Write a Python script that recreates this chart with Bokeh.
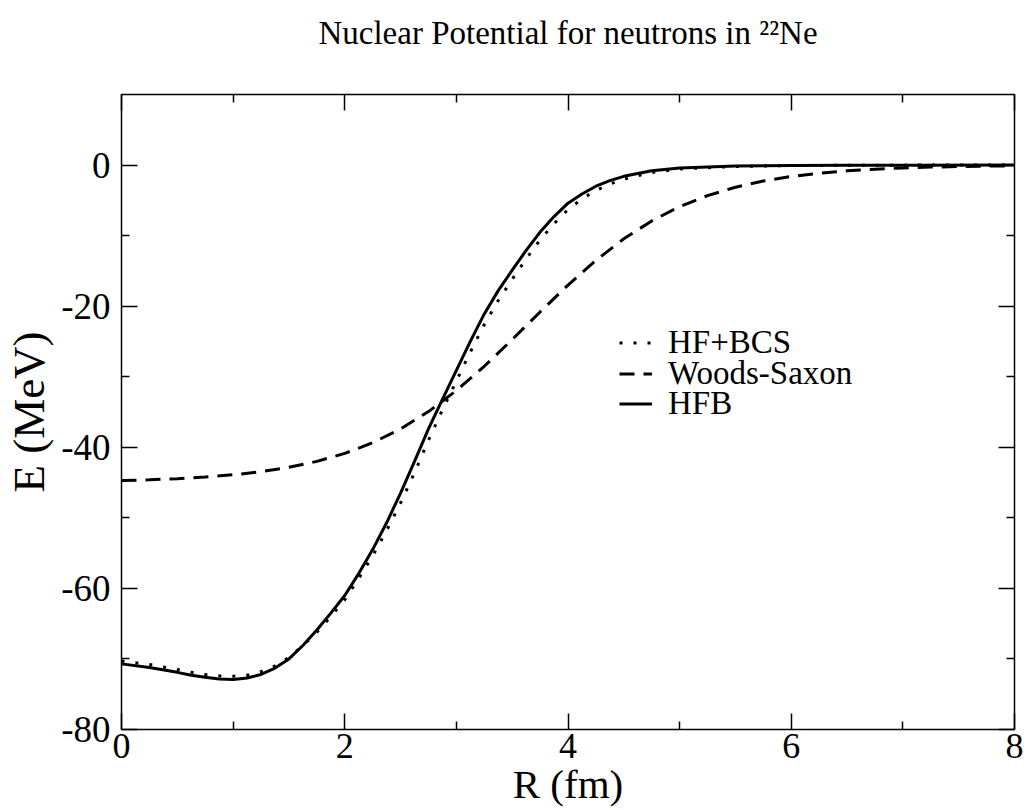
from bokeh.plotting import figure
from bokeh.models import (Range1d, LinearAxis, FixedTicker, Legend, LegendItem,
                          CustomJSTickFormatter, Title)
from bokeh.embed import file_html
from bokeh.resources import INLINE

# ---------------- data ----------------
r_hfb = [0.0, 0.25, 0.5, 0.625, 0.75, 0.875, 1.0, 1.125, 1.25, 1.375, 1.5, 1.625,
         1.75, 1.875, 2.0, 2.125, 2.25, 2.375, 2.5, 2.625, 2.75, 2.875, 3.0,
         3.125, 3.25, 3.375, 3.5, 3.625, 3.75, 3.875, 4.0, 4.125, 4.25, 4.375,
         4.5, 4.75, 5.0, 5.5, 6.0, 6.5, 7.0, 8.0]
e_hfb = [-70.7, -71.2, -71.9, -72.3, -72.6, -72.85, -72.9, -72.7, -72.2, -71.3,
         -70.0, -68.1, -65.9, -63.5, -61.0, -57.9, -54.5, -50.7, -46.5, -42.0,
         -37.4, -33.2, -29.1, -25.0, -21.1, -17.8, -14.9, -12.1, -9.5, -7.3,
         -5.4, -4.1, -3.0, -2.2, -1.6, -0.8, -0.42, -0.15, -0.06, -0.03, -0.01,
         0.0]

r_bcs = [0.0, 0.25, 0.5, 0.625, 0.75, 0.875, 1.0, 1.125, 1.25, 1.375, 1.5, 1.625,
         1.75, 1.875, 2.0, 2.125, 2.25, 2.375, 2.5, 2.625, 2.75, 2.875, 3.0,
         3.125, 3.25, 3.375, 3.5, 3.625, 3.75, 3.875, 4.0, 4.125, 4.25, 4.375,
         4.5, 4.75, 5.0, 5.5, 6.0, 6.5, 7.0, 8.0]
e_bcs = [-70.3, -70.8, -71.5, -71.9, -72.2, -72.4, -72.45, -72.3, -71.8, -71.0,
         -69.8, -68.1, -66.2, -64.0, -61.6, -58.6, -55.4, -51.8, -47.9, -43.6,
         -39.0, -34.7, -30.6, -26.5, -22.6, -19.2, -16.2, -13.3, -10.6, -8.3,
         -6.3, -4.8, -3.6, -2.7, -2.0, -1.05, -0.55, -0.2, -0.08, -0.03, -0.01,
         0.0]

r_ws = [0.0, 0.25, 0.5, 0.75, 1.0, 1.25, 1.5, 1.75, 2.0, 2.25, 2.5, 2.75, 3.0,
        3.25, 3.5, 3.75, 4.0, 4.25, 4.5, 4.75, 5.0, 5.25, 5.5, 5.75, 6.0, 6.25,
        6.5, 6.75, 7.0, 7.25, 7.5, 7.75, 8.0]
e_ws = [-44.72, -44.61, -44.45, -44.22, -43.90, -43.46, -42.84, -42.00, -40.87,
        -39.36, -37.40, -34.94, -31.96, -28.52, -24.73, -20.82, -17.01, -13.51,
        -10.45, -7.92, -5.89, -4.33, -3.14, -2.26, -1.62, -1.16, -0.82, -0.58,
        -0.41, -0.29, -0.21, -0.15, -0.10]

x_major = [0, 2, 4, 6, 8]
x_minor = [1, 3, 5, 7]
y_major = [-80, -60, -40, -20, 0]
y_minor = [-70, -50, -30, -10]

labels = ["HF+BCS", "Woods-Saxon", "HFB"]
title_text = "Nuclear Potential for neutrons in \u00b2\u00b2Ne"
x_title = "R (fm)"
y_title = "E (MeV)"

# ---------------- layout constants ----------------
W, H = 1026, 810
L, R, T, B = 121, 1014, 94, 729
X0, X1, Y0, Y1 = 0, 8, -80, 10
FONT = "Liberation Serif"

p = figure(width=W, height=H, x_range=Range1d(X0, X1), y_range=Range1d(Y0, Y1),
           output_backend="svg", toolbar_location=None,
           min_border_left=L, min_border_right=W - R, min_border_top=T,
           min_border_bottom=H - B)
p.xgrid.visible = False
p.ygrid.visible = False
p.outline_line_color = "black"
p.outline_line_width = 1.5
p.background_fill_color = "white"
p.border_fill_color = "white"

r_w = p.line(r_ws, e_ws, line_color="black", line_width=3, line_dash="15 9")
r_h = p.line(r_hfb, e_hfb, line_color="black", line_width=3)
r_b = p.line(r_bcs, e_bcs, line_color="black", line_width=3, line_dash="3 11")

p.add_layout(LinearAxis(), "above")
p.add_layout(LinearAxis(), "right")

blank = CustomJSTickFormatter(code="return ''")
plain = CustomJSTickFormatter(code="return String(tick)")
for ax in p.xaxis:
    ax.ticker = FixedTicker(ticks=x_major, minor_ticks=x_minor)
for ax in p.yaxis:
    ax.ticker = FixedTicker(ticks=y_major, minor_ticks=y_minor)
for ax in p.xaxis + p.yaxis:
    ax.axis_line_color = None
    ax.major_tick_in = 16
    ax.major_tick_out = 0
    ax.minor_tick_in = 8
    ax.minor_tick_out = 0
    ax.major_tick_line_color = "black"
    ax.minor_tick_line_color = "black"
    ax.major_tick_line_width = 1.5
    ax.minor_tick_line_width = 1.5
    ax.major_label_text_font = FONT
    ax.major_label_text_font_size = "37px"
    ax.major_label_text_color = "black"
    ax.formatter = plain

for ax in (p.above[0], p.right[0]):
    ax.formatter = blank
    ax.major_label_text_font_size = "1px"
    ax.major_label_standoff = 0

bx = p.below[0]
bx.major_label_standoff = 4
bx.major_label_text_font_size = "36px"
bx.axis_label = x_title
bx.axis_label_text_font = FONT
bx.axis_label_text_font_size = "41px"
bx.axis_label_text_font_style = "normal"
bx.axis_label_text_color = "black"
bx.axis_label_standoff = 0

ly = p.left[0]
ly.major_label_standoff = 11
ly.axis_label = y_title
ly.axis_label_text_font = FONT
ly.axis_label_text_font_size = "45px"
ly.axis_label_text_font_style = "normal"
ly.axis_label_text_color = "black"
ly.axis_label_standoff = 4

# title: a thin spacer title next to the frame, the real title above it
p.title.visible = False
p.add_layout(Title(text=" ", text_font_size="1px", standoff=41), "above")
p.add_layout(Title(text=title_text, text_font=FONT, text_font_size="33px",
                   text_font_style="normal", text_color="black",
                   align="center", standoff=0), "above")

# one legend per row so the row pitch can match the reference
row_centers = [342, 373, 403]
ROW_H = 37
for lab, rend, yc in zip(labels, [r_b, r_w, r_h], row_centers):
    lg = Legend(items=[LegendItem(label=lab, renderers=[rend])],
                location=(619 - L, B - (yc + ROW_H / 2)), orientation="vertical",
                padding=0, margin=0, spacing=0,
                glyph_width=33, glyph_height=31, label_height=31,
                label_standoff=16, label_text_font=FONT,
                label_text_font_size="33px", label_text_color="black",
                border_line_color=None, background_fill_alpha=0)
    p.add_layout(lg)

open("out.html", "w").write(file_html(p, INLINE))
